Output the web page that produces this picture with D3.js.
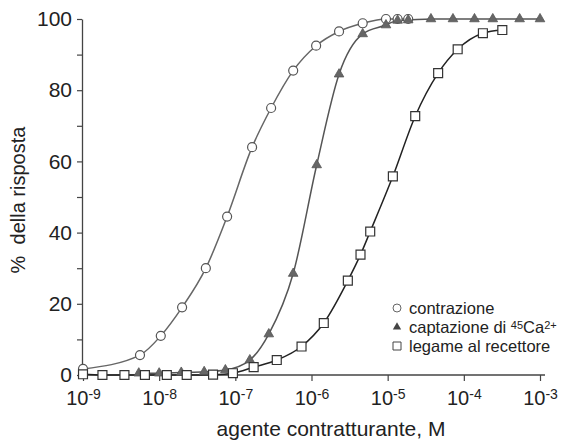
<!DOCTYPE html>
<html>
<head>
<meta charset="utf-8">
<script src="https://cdn.jsdelivr.net/npm/d3@7"></script>
<style>
    body { margin: 0; background: #fff; }
    svg text { font-family: "Liberation Sans", Arial, sans-serif; fill: #222; }
</style>
</head>
<body>
<div class="chart-container"></div>
<script>
// dati (concentrazione M, % della risposta)
const contrazioneConc = [1e-9, 5.6e-9, 1.05e-8, 2.0e-8, 4.1e-8, 7.8e-8, 1.66e-7, 2.95e-7, 5.75e-7, 1.15e-6, 2.3e-6, 4.7e-6, 9.5e-6, 1.35e-5, 1.86e-5];
const contrazioneVal = [1.7, 5.6, 11, 19, 30, 44.5, 64, 75, 85.5, 92.5, 96.5, 98.8, 100, 100, 100];

const captazioneConc = [5.4e-9, 1e-8, 1.95e-8, 3.9e-8, 7.4e-8, 1.55e-7, 2.75e-7, 5.75e-7, 1.17e-6, 2.3e-6, 4.7e-6, 9.5e-6, 1.35e-5, 1.86e-5, 3.7e-5, 7.2e-5, 1.38e-4, 2.4e-4, 5.4e-4, 1.0e-3];
const captazioneVal = [0.5, 0.5, 0.7, 0.9, 1.4, 4.2, 11.5, 28.5, 59, 84.5, 95.8, 98.3, 99.6, 99.7, 100, 100, 100, 100, 100, 100];

const legameConc = [1e-9, 1.8e-9, 3.5e-9, 6.5e-9, 1.26e-8, 2.3e-8, 5.1e-8, 9.3e-8, 1.74e-7, 3.5e-7, 7.4e-7, 1.45e-6, 3.0e-6, 4.4e-6, 5.9e-6, 1.17e-5, 2.3e-5, 4.6e-5, 8.3e-5, 1.78e-4, 3.2e-4];
const legameVal = [0.2, 0, 0, 0, 0, 0, 0.1, 0.5, 2.2, 4.2, 8, 14.6, 26.5, 33.8, 40.3, 55.8, 72.7, 84.8, 91.5, 96, 96.9];

const xTickExp = [-9, -8, -7, -6, -5, -4, -3];
const yTicks = [0, 10, 20, 30, 40, 50, 60, 70, 80, 90, 100];

const zip = (cs, vs) => cs.map((c, i) => ({ c: c, v: vs[i] }));
const contrazione = zip(contrazioneConc, contrazioneVal);
const captazione = zip(captazioneConc, captazioneVal);
const legame = zip(legameConc, legameVal);

// canvas
const svg_width = 581;
const svg_height = 441;
const margin = { top: 19, right: 41, bottom: 66, left: 83 };

const svg = d3.select(".chart-container").append("svg")
    .attr("width", svg_width)
    .attr("height", svg_height);

// scales
const x = d3.scaleLog()
    .domain([1e-9, 1e-3])
    .range([margin.left, svg_width - margin.right]);
const y = d3.scaleLinear()
    .domain([0, 100])
    .range([svg_height - margin.bottom, margin.top]);

const axisColor = "#444";

// x axis
const xAxisG = svg.append("g")
    .attr("transform", `translate(0,${y(0)})`)
    .call(d3.axisBottom(x)
        .tickValues(xTickExp.map(e => Math.pow(10, e)))
        .tickSize(6)
        .tickSizeOuter(0)
        .tickPadding(10)
        .tickFormat(() => ""));
xAxisG.select(".domain").remove();
xAxisG.append("line")
    .attr("x1", x.range()[0] - 5).attr("x2", x.range()[1] + 5)
    .attr("stroke", axisColor).attr("stroke-width", 1.3);
xAxisG.selectAll(".tick line").attr("stroke", axisColor).attr("stroke-width", 1.2);
xAxisG.selectAll(".tick text")
    .style("font-size", "20px")
    .attr("fill", "#222")
    .each(function(d, i) {
        const t = d3.select(this);
        t.append("tspan").text("10");
        t.append("tspan").text(xTickExp[i])
            .style("font-size", "14px")
            .attr("dy", "-0.45em");
    });

// y axis
const yAxisG = svg.append("g")
    .attr("transform", `translate(${margin.left - 1},0)`)
    .call(d3.axisLeft(y)
        .tickValues(yTicks)
        .tickSize(5)
        .tickSizeOuter(0)
        .tickPadding(5)
        .tickFormat(d => d % 20 === 0 ? d : ""));
yAxisG.select(".domain").attr("stroke", axisColor).attr("stroke-width", 1.3);
yAxisG.selectAll(".tick line").attr("stroke", axisColor).attr("stroke-width", 1.2);
yAxisG.selectAll(".tick text").style("font-size", "21px").attr("fill", "#222");

// axis titles
svg.append("text")
    .attr("x", 331).attr("y", 436)
    .attr("text-anchor", "middle")
    .style("font-size", "21px")
    .text("agente contratturante, M");

svg.append("text")
    .attr("transform", "translate(25,200) rotate(-90)")
    .attr("text-anchor", "middle")
    .style("font-size", "20px")
    .style("white-space", "pre")
    .text("%  della risposta");

// curves
const line = d3.line()
    .x(d => x(d.c))
    .y(d => y(d.v))
    .curve(d3.curveMonotoneX);

const series = [
    { data: contrazione, color: "#666" },
    { data: captazione, color: "#555" },
    { data: legame, color: "#222" }
];
svg.append("g").selectAll("path").data(series).join("path")
    .attr("d", d => line(d.data))
    .attr("fill", "none")
    .attr("stroke", d => d.color)
    .attr("stroke-width", 1.5);

// markers
const tri = d3.symbol(d3.symbolTriangle, 40);
const sq = d3.symbol(d3.symbolSquare, 80);

svg.append("g").selectAll("circle").data(contrazione).join("circle")
    .attr("cx", d => x(d.c)).attr("cy", d => y(d.v))
    .attr("r", 4.5)
    .attr("fill", "#fff").attr("stroke", "#555").attr("stroke-width", 1.2);

svg.append("g").selectAll("path").data(captazione).join("path")
    .attr("transform", d => `translate(${x(d.c)},${y(d.v)})`)
    .attr("d", tri)
    .attr("fill", "#666").attr("stroke", "#555").attr("stroke-width", 0.8);

svg.append("g").selectAll("path").data(legame).join("path")
    .attr("transform", d => `translate(${x(d.c)},${y(d.v)})`)
    .attr("d", sq)
    .attr("fill", "#fff").attr("stroke", "#333").attr("stroke-width", 1.2);

// legend
const legend = svg.append("g").attr("transform", "translate(397,308)");
const legendRows = [0, 1, 2];
const rowH = 19;

legend.append("circle").attr("cx", 0).attr("cy", 0).attr("r", 4)
    .attr("fill", "#fff").attr("stroke", "#666").attr("stroke-width", 1);
legend.append("path").attr("transform", `translate(0,${rowH})`)
    .attr("d", d3.symbol(d3.symbolTriangle, 30)).attr("fill", "#444");
legend.append("path").attr("transform", `translate(0,${rowH * 2})`)
    .attr("d", d3.symbol(d3.symbolSquare, 64))
    .attr("fill", "#fff").attr("stroke", "#444").attr("stroke-width", 1);

const lt = legend.selectAll("text").data(legendRows).join("text")
    .attr("x", 12)
    .attr("y", d => d * rowH + 6)
    .style("font-size", "16.5px");
lt.filter(d => d === 0).text("contrazione");
lt.filter(d => d === 2).text("legame al recettore");
const capt = lt.filter(d => d === 1);
capt.append("tspan").text("captazione di ");
capt.append("tspan").text("45").style("font-size", "11px").attr("dy", "-0.35em");
capt.append("tspan").text("Ca").attr("dy", "0.23em");
capt.append("tspan").text("2+").style("font-size", "11px").attr("dy", "-0.35em");
</script>
</body>
</html>
